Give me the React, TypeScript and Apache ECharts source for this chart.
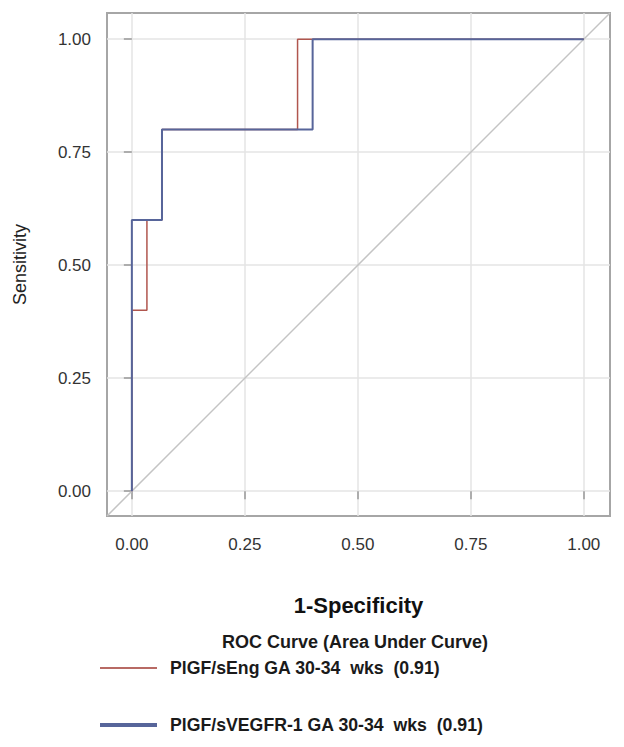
import React, { useEffect, useRef } from "react";
import * as echarts from "echarts";

const seriesNames = [
  "PlGF/sEng GA 30-34  wks  (0.91)",
  "PlGF/sVEGFR-1 GA 30-34  wks  (0.91)",
];
// ROC points [1-specificity, sensitivity]
const rocSEng: [number, number][] = [
  [0, 0], [0, 0.4], [1 / 30, 0.4], [1 / 30, 0.6], [2 / 30, 0.6], [2 / 30, 0.8],
  [11 / 30, 0.8], [11 / 30, 1], [1, 1],
];
const rocSVEGFR: [number, number][] = [
  [0, 0], [0, 0.6], [2 / 30, 0.6], [2 / 30, 0.8], [12 / 30, 0.8], [12 / 30, 1], [1, 1],
];
const axisMin = -0.055;
const axisMax = 1.058;
const diagonal: [number, number][] = [[axisMin, axisMin], [axisMax, axisMax]];
const tickValues = [0, 0.25, 0.5, 0.75, 1];
const legendTitle = "ROC Curve (Area Under Curve)";
const xName = "1-Specificity";
const yName = "Sensitivity";

const FONT = "'Liberation Sans', Arial, sans-serif";

export default function App() {
  const ref = useRef<HTMLDivElement>(null);
  useEffect(() => {
    document.body.style.margin = "0";
    const chart = echarts.init(ref.current!, null, { renderer: "svg" });
    const axisCommon = {
      type: "value" as const,
      min: axisMin,
      max: axisMax,
      axisLine: { show: false },
      axisTick: { show: true, length: 8, customValues: tickValues, lineStyle: { color: "#999", width: 1.5 } },
      axisLabel: {
        customValues: tickValues,
        formatter: (v: number) => v.toFixed(2),
        fontSize: 17,
        color: "#333",
        fontFamily: FONT,
      },
      splitLine: { show: true, lineStyle: { color: "#e4e4e4", width: 1.5 } },
    };
    chart.setOption({
      animation: false,
      textStyle: { fontFamily: FONT },
      grid: {
        left: 107,
        top: 13,
        right: 14,
        bottom: 231,
        outerBoundsMode: "none",
        containLabel: false,
        show: true,
        borderColor: "#a6a6a6",
        borderWidth: 2,
        backgroundColor: "#fff",
      },
      xAxis: {
        ...axisCommon,
        axisLabel: { ...axisCommon.axisLabel, margin: 20 },
        name: xName,
        nameLocation: "middle",
        nameGap: 78,
        nameTextStyle: { fontSize: 22, fontWeight: "bold", color: "#111", fontFamily: FONT },
      },
      yAxis: {
        ...axisCommon,
        axisLabel: { ...axisCommon.axisLabel, margin: 16 },
        name: yName,
        nameLocation: "middle",
        nameGap: 78,
        nameRotate: 90,
        nameTextStyle: { fontSize: 18, color: "#222", fontFamily: FONT },
      },
      legend: {
        orient: "vertical",
        left: 98,
        top: 659,
        padding: 0,
        itemWidth: 57,
        itemHeight: 14,
        itemGap: 39,
        itemStyle: { opacity: 0 },
        data: [
          { name: seriesNames[0], lineStyle: { width: 2, color: "#b86a64" } },
          { name: seriesNames[1], lineStyle: { width: 4 } },
        ],
        textStyle: { fontSize: 17.7, fontWeight: "bold", color: "#1a1a1a", fontFamily: FONT, padding: [0, 0, 0, 8] },
      },
      graphic: [
        {
          type: "text",
          left: 222,
          top: 633,
          style: { text: legendTitle, fontSize: 18, fontWeight: "bold", fill: "#1a1a1a", fontFamily: FONT },
        },
      ],
      series: [
        {
          name: "diagonal",
          type: "line",
          data: diagonal,
          symbol: "none",
          silent: true,
          lineStyle: { color: "#c4c4c4", width: 1.5 },
        },
        {
          name: seriesNames[0],
          type: "line",
          data: rocSEng,
          symbol: "none",
          lineStyle: { color: "#b0564e", width: 1.5 },
          itemStyle: { color: "#b0564e" },
        },
        {
          name: seriesNames[1],
          type: "line",
          data: rocSVEGFR,
          symbol: "none",
          lineStyle: { color: "#57659a", width: 2 },
          itemStyle: { color: "#57659a" },
        },
      ],
    });
    return () => chart.dispose();
  }, []);
  return <div ref={ref} style={{ width: 624, height: 747 }} />;
}
